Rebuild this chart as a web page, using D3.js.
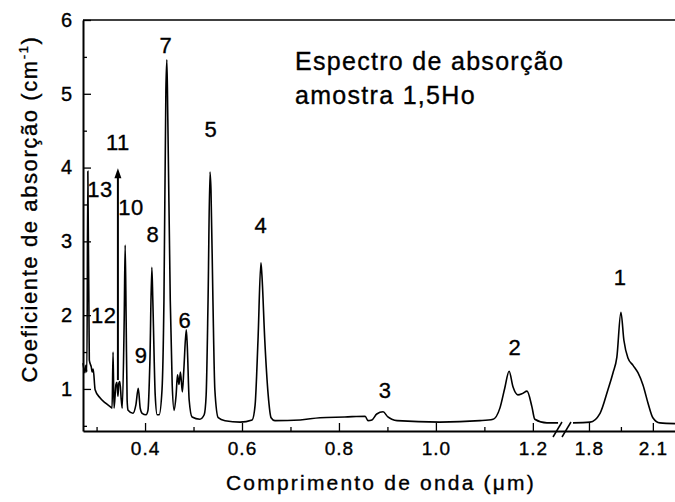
<!DOCTYPE html>
<html>
<head>
<meta charset="utf-8">
<script src="https://cdn.jsdelivr.net/npm/d3@7"></script>
<style>
  body { margin: 0; background: #fff; }
  text { font-family: "Liberation Sans", Arial, sans-serif; fill: #000; stroke: #000; stroke-width: 0.35px; }
</style>
</head>
<body>
<div id="chart"></div>
<script>
// visible / UV part of the spectrum, [wavelength um, absorption cm-1]
const specVis = [
  [0.272, 1.35], [0.276, 1.22], [0.278, 1.32], [0.280, 1.23], [0.282, 3.95], [0.285, 1.39],
  [0.289, 1.30], [0.291, 1.23], [0.293, 1.27], [0.297, 0.99], [0.307, 0.88], [0.318, 0.81],
  [0.328, 0.76], [0.332, 0.74], [0.334, 1.50], [0.336, 0.74], [0.340, 1.06], [0.342, 1.09],
  [0.344, 0.90], [0.346, 1.08], [0.348, 1.10], [0.351, 0.85], [0.353, 0.74], [0.357, 1.94],
  [0.359, 2.95], [0.361, 1.94], [0.363, 0.85], [0.365, 0.71], [0.375, 0.67], [0.381, 0.78],
  [0.386, 1.01], [0.390, 0.74], [0.394, 0.67], [0.402, 0.65], [0.406, 0.71], [0.410, 1.37],
  [0.414, 2.65], [0.416, 2.21], [0.421, 0.91], [0.425, 0.65], [0.429, 0.65], [0.435, 0.99],
  [0.439, 2.21], [0.443, 5.05], [0.445, 5.46], [0.447, 4.65], [0.452, 2.21], [0.456, 1.06],
  [0.460, 0.71], [0.464, 0.91], [0.467, 1.19], [0.470, 1.06], [0.473, 1.23], [0.477, 0.96],
  [0.480, 1.26], [0.485, 1.80], [0.487, 1.60], [0.491, 0.85], [0.497, 0.62], [0.513, 0.59],
  [0.522, 0.65], [0.526, 0.91], [0.530, 2.21], [0.534, 3.94], [0.536, 3.70], [0.540, 2.21],
  [0.544, 0.99], [0.551, 0.61], [0.565, 0.57], [0.596, 0.55], [0.621, 0.58], [0.627, 0.78],
  [0.633, 1.66], [0.639, 2.71], [0.641, 2.55], [0.647, 1.66], [0.654, 0.92], [0.660, 0.61],
  [0.668, 0.57], [0.720, 0.58], [0.761, 0.61], [0.812, 0.62], [0.854, 0.63], [0.860, 0.57],
  [0.868, 0.58], [0.878, 0.66], [0.891, 0.69], [0.901, 0.62], [0.909, 0.59], [0.920, 0.57],
  [1.008, 0.55], [1.091, 0.57], [1.118, 0.59], [1.132, 0.74], [1.142, 1.01], [1.151, 1.24],
  [1.159, 1.03], [1.169, 0.92], [1.179, 0.94], [1.188, 0.97], [1.198, 0.76], [1.204, 0.59],
  [1.229, 0.54], [1.252, 0.54]
];

// infrared part after the axis break
const specIR = [
  [1.725, 0.54], [1.805, 0.55], [1.852, 0.67], [1.889, 0.99], [1.913, 1.22], [1.931, 1.43],
  [1.950, 2.04], [1.964, 1.66], [1.983, 1.42], [2.007, 1.32], [2.030, 1.22], [2.054, 1.05],
  [2.077, 0.81], [2.100, 0.61], [2.133, 0.54], [2.204, 0.53]
];

// peak numbers and where they sit (wavelength, absorption of the label baseline)
const peakNames = ['1', '2', '3', '4', '5', '6', '7', '8', '9', '10', '11', '12', '13'];
const peakWl = [1.946, 1.163, 0.895, 0.639, 0.536, 0.482, 0.443, 0.416, 0.392, 0.371, 0.344, 0.315, 0.307];
const peakAbs = [2.41, 1.46, 0.88, 3.11, 4.41, 1.83, 5.55, 2.99, 1.35, 3.36, 4.24, 1.89, 3.60];

// off-scale peak 11 marked with an arrow
const arrowWl = 0.344;
const arrowFrom = 1.12;
const arrowTo = 3.99;

const xMajor = [0.4, 0.6, 0.8, 1.0, 1.2, 1.8, 2.1];
const xMinor = [0.3, 0.5, 0.7, 0.9, 1.1, 1.95];
const yMajor = [1, 2, 3, 4, 5, 6];
const yMinor = [0.5, 1.5, 2.5, 3.5, 4.5, 5.5];

const margin = { top: 20, right: 0, bottom: 71, left: 83 };
const width = 675 - margin.left - margin.right;
const height = 502 - margin.top - margin.bottom;

// broken x axis: two linear pieces with a small gap between 1.256 and 1.725
const xScale = d3.scaleLinear()
  .domain([0.272, 1.256, 1.725, 2.204])
  .range([0, 477, 490, width]);

const yScale = d3.scaleLinear()
  .domain([0.43, 6])
  .range([height, 0]);

const svg = d3.select('#chart').append('svg')
  .attr('width', 675)
  .attr('height', 502);

const g = svg.append('g')
  .attr('transform', `translate(${margin.left},${margin.top})`);

// frame: top line
g.append('line')
  .attr('x1', 0).attr('x2', width)
  .attr('y1', 0).attr('y2', 0)
  .attr('stroke', '#000').attr('stroke-width', 1.5);

const xAxis = g.append('g')
  .attr('transform', `translate(0,${height})`)
  .call(d3.axisBottom(xScale).tickValues(xMajor).tickFormat(d3.format('.1f'))
    .tickSizeInner(-8).tickSizeOuter(0).tickPadding(11));
g.append('g')
  .attr('transform', `translate(0,${height})`)
  .call(d3.axisBottom(xScale).tickValues(xMinor).tickFormat('')
    .tickSizeInner(-4).tickSizeOuter(0))
  .select('.domain').remove();

const yAxis = g.append('g')
  .call(d3.axisLeft(yScale).tickValues(yMajor).tickFormat(d3.format('d'))
    .tickSizeInner(-8).tickSizeOuter(0).tickPadding(11));
g.append('g')
  .call(d3.axisLeft(yScale).tickValues(yMinor).tickFormat('')
    .tickSizeInner(-4).tickSizeOuter(0))
  .select('.domain').remove();

svg.selectAll('.domain').attr('stroke-width', 2);
svg.selectAll('.tick line').attr('stroke-width', 1.3);
xAxis.selectAll('text').attr('font-size', 19).attr('letter-spacing', 1);
yAxis.selectAll('text').attr('font-size', 20);

// axis break marks
const bx = xScale(1.256);
[0, 9].forEach((off) => {
  g.append('line')
    .attr('x1', bx - 7 + off).attr('y1', height + 6)
    .attr('x2', bx + 2 + off).attr('y2', height - 9)
    .attr('stroke', '#000').attr('stroke-width', 1.5);
});

const line = d3.line()
  .x(d => xScale(d[0]))
  .y(d => yScale(d[1]))
  .curve(d3.curveMonotoneX);

[specVis, specIR].forEach((spec) => {
  g.append('path')
    .datum(spec)
    .attr('fill', 'none')
    .attr('stroke', '#000')
    .attr('stroke-width', 1.6)
    .attr('d', line);
});

// arrow for peak 11
g.append('line')
  .attr('x1', xScale(arrowWl)).attr('x2', xScale(arrowWl))
  .attr('y1', yScale(arrowFrom)).attr('y2', yScale(arrowTo) + 8)
  .attr('stroke', '#000').attr('stroke-width', 2);
g.append('path')
  .attr('d', `M${xScale(arrowWl)},${yScale(arrowTo)} l-3.5,10 l7,0 z`)
  .attr('fill', '#000');

g.selectAll('.peak-label')
  .data(peakNames)
  .enter().append('text')
  .attr('class', 'peak-label')
  .attr('x', (d, i) => xScale(peakWl[i]))
  .attr('y', (d, i) => yScale(peakAbs[i]))
  .attr('text-anchor', 'middle')
  .attr('font-size', 22)
  .attr('letter-spacing', 0.5)
  .text(d => d);

// sample caption
const caption = g.append('text')
  .attr('x', 212)
  .attr('font-size', 25)
  .attr('letter-spacing', 1.3);
caption.append('tspan').attr('x', 212).attr('y', 50).text('Espectro de absorção');
caption.append('tspan').attr('x', 212).attr('y', 84).text('amostra 1,5Ho');

// axis titles
svg.append('text')
  .attr('x', 381)
  .attr('y', 490)
  .attr('text-anchor', 'middle')
  .attr('font-size', 21)
  .attr('letter-spacing', 2.2)
  .text('Comprimento de onda (μm)');

const yTitle = svg.append('text')
  .attr('transform', 'translate(37,209) rotate(-90)')
  .attr('text-anchor', 'middle')
  .attr('font-size', 22)
  .attr('letter-spacing', 1.6);
yTitle.append('tspan').text('Coeficiente de absorção (cm');
yTitle.append('tspan').attr('font-size', 13).attr('dy', -9).text('-1');
yTitle.append('tspan').attr('dy', 9).text(')');
</script>
</body>
</html>
